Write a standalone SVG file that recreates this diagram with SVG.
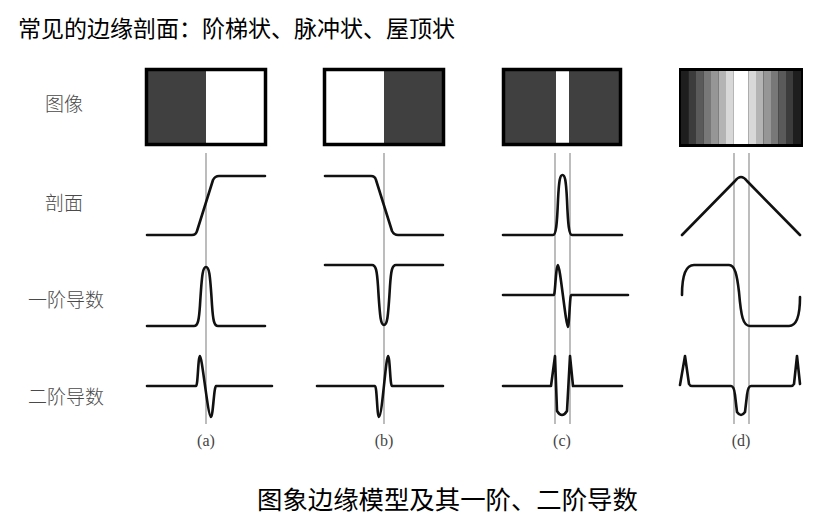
<svg xmlns="http://www.w3.org/2000/svg" width="832" height="527" viewBox="0 0 832 527">
<style>
.title{font-family:"Noto Sans CJK SC","Noto Sans",sans-serif;fill:#000}
.row{font-family:"Noto Sans CJK SC","Noto Sans",sans-serif;font-size:19px;font-weight:300;fill:#4a4a4a}
.lab{font-family:"Liberation Serif","DejaVu Serif",serif;font-size:16px;fill:#444;text-anchor:middle}
.frame{fill:none;stroke:#000;stroke-width:3.5}
.guide{stroke:#999;stroke-width:1.3;fill:none}
.curve{fill:none;stroke:#111;stroke-width:2.6;stroke-linejoin:round;stroke-linecap:round}
</style>
<rect width="832" height="527" fill="#fff"/>
<text class="title" x="18" y="37" font-size="23">常见的边缘剖面：阶梯状、脉冲状、屋顶状</text>
<g id="row-labels">
<text class="row" x="45" y="111">图像</text>
<text class="row" x="45" y="210">剖面</text>
<text class="row" x="28" y="307">一阶导数</text>
<text class="row" x="28" y="404">二阶导数</text>
</g>

<g id="col-a">
<rect x="146" y="69" width="60" height="76" fill="#404040"/>
<rect x="146.5" y="69.5" width="119" height="75" class="frame"/>
<line class="guide" x1="206" y1="153" x2="206" y2="424"/>
<path class="curve" d="M147,235 L192,235 Q196,235 197,231 L213,180 Q215,176 219,176 L265,176"/>
<path class="curve" d="M147,326 L194,326 C198,326 199,320 200,305 C202,272 203,267 206,267 C209,267 210,272 212,305 C213,320 214,326 218,326 L265,326"/>
<path class="curve" d="M147,386 L196,386 C198,386 198,356 200,356 C202,356 208,417 211,417 C213,417 214,386 216,386 L272,386"/>
<text class="lab" x="206" y="446">(a)</text>
</g>

<g id="col-b">
<rect x="384" y="69" width="60" height="76" fill="#404040"/>
<rect x="324.5" y="69.5" width="119" height="75" class="frame"/>
<line class="guide" x1="384" y1="153" x2="384" y2="424"/>
<path class="curve" d="M325,176 L371,176 Q375,176 376,180 L392,231 Q394,235 398,235 L443,235"/>
<path class="curve" d="M325,265 L372,265 C376,265 377,271 378,286 C380,320 381,325 384,325 C387,325 388,320 390,286 C391,271 392,265 396,265 L443,265"/>
<path class="curve" d="M317,386 L375,386 C377,386 377,417 379,417 C382,417 386,356 388,356 C390,356 390,386 392,386 L443,386"/>
<text class="lab" x="384" y="446">(b)</text>
</g>

<g id="col-c">
<rect x="504" y="69" width="116" height="76" fill="#404040"/>
<rect x="556" y="69" width="13" height="76" fill="#fff"/>
<rect x="503.5" y="69.5" width="117" height="75" class="frame"/>
<line class="guide" x1="555" y1="153" x2="555" y2="424"/>
<line class="guide" x1="570" y1="153" x2="570" y2="424"/>
<path class="curve" d="M503,235 L553,235 C556,235 557,225 558,200 C559,180 560,175 562.5,175 C565,175 566,180 567,200 C568,225 569,235 572,235 L622,235"/>
<path class="curve" d="M503,295 L554,295 C555,295 556,265 558,265 C560,265 566,327 568,327 C569,327 570,295 571,295 L628,295"/>
<path class="curve" d="M503,386 L551,386 L555,356 L557,411 Q562,419 567,411 L570,356 L573,386 L622,386"/>
<text class="lab" x="562" y="446">(c)</text>
</g>

<g id="col-d">
<rect x="679" y="68" width="124" height="79" fill="#000"/>
<rect x="681" y="71" width="7.5" height="73" fill="#1e1e1e"/>
<rect x="688.5" y="71" width="7.5" height="73" fill="#3c3c3c"/>
<rect x="696" y="71" width="7.5" height="73" fill="#5a5a5a"/>
<rect x="703.5" y="71" width="7.5" height="73" fill="#787878"/>
<rect x="711" y="71" width="7.5" height="73" fill="#969696"/>
<rect x="718.5" y="71" width="7.5" height="73" fill="#b4b4b4"/>
<rect x="726" y="71" width="7.5" height="73" fill="#d8d8d8"/>
<rect x="733.5" y="71" width="15" height="73" fill="#fff"/>
<rect x="748.5" y="71" width="7.5" height="73" fill="#d8d8d8"/>
<rect x="756" y="71" width="7.5" height="73" fill="#b4b4b4"/>
<rect x="763.5" y="71" width="7.5" height="73" fill="#969696"/>
<rect x="771" y="71" width="7.5" height="73" fill="#787878"/>
<rect x="778.5" y="71" width="7.5" height="73" fill="#5a5a5a"/>
<rect x="786" y="71" width="7.5" height="73" fill="#3c3c3c"/>
<rect x="793.5" y="71" width="7.5" height="73" fill="#1e1e1e"/>
<line class="guide" x1="734" y1="153" x2="734" y2="424"/>
<line class="guide" x1="749" y1="153" x2="749" y2="424"/>
<path class="curve" d="M682,235 L735,181 Q741,173 747,181 L800,235"/>
<path class="curve" d="M682,295 C682,274 686,265 694,265 L729,265 C735,265 737,275 739,292 C741,316 743,326 750,326 L789,326 C797,326 800,315 800,297"/>
<path class="curve" d="M680,385 L685,356 L689,384 Q690,386 692,386 L731,386 Q734,386 735,395 L737,412 Q741,418 745,412 L747,395 Q748,386 751,386 L791,386 Q793,386 794,384 L797,356 L800,384"/>
<text class="lab" x="741" y="446">(d)</text>
</g>

<text class="title" x="257" y="509" font-size="25.4">图象边缘模型及其一阶、二阶导数</text>
</svg>
